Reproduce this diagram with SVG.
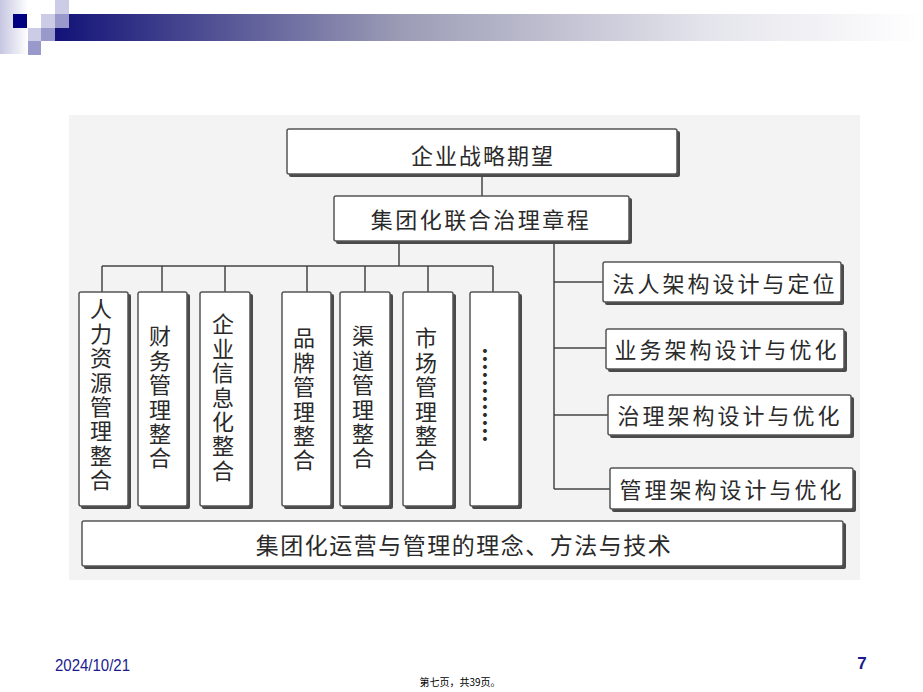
<svg xmlns="http://www.w3.org/2000/svg" width="923" height="692" viewBox="0 0 923 692">
<defs>
<linearGradient id="barG" x1="0" y1="0" x2="1" y2="0">
<stop offset="0" stop-color="#121278"/>
<stop offset="0.4" stop-color="#9c9cb6"/>
<stop offset="0.75" stop-color="#e4e4ec"/>
<stop offset="1" stop-color="#ffffff"/>
</linearGradient>
<linearGradient id="leftG" x1="0" y1="0" x2="1" y2="0">
<stop offset="0" stop-color="#c6c6e2"/>
<stop offset="1" stop-color="#ffffff"/>
</linearGradient>
<style>
.sh{fill:#4a4a4a}
.bx{fill:#ffffff;stroke:#555555;stroke-width:1.5}
.t{font-family:"Noto Sans CJK SC","Noto Sans CJK JP",sans-serif;font-size:22px;fill:#2a2a2a;text-anchor:middle;dominant-baseline:central}
.v{font-family:"Noto Sans CJK SC","Noto Sans CJK JP",sans-serif;font-size:22px;fill:#2a2a2a;writing-mode:vertical-rl;letter-spacing:2.4px}
.ln{stroke:#444444;stroke-width:1.5;fill:none}
.lt{fill:#ccccE6}
.md{fill:#9999cc}
</style>
</defs>
<rect width="923" height="692" fill="#ffffff"/>
<g id="decoration">
<rect x="0" y="0" width="28" height="54" fill="url(#leftG)"/>
<rect x="55" y="14" width="868" height="27" fill="url(#barG)"/>
<rect x="13" y="14" width="14" height="14" fill="#000080"/>
<rect x="41" y="14" width="14" height="14" class="lt"/>
<rect x="55" y="0" width="14" height="14" class="lt"/>
<rect x="55" y="14" width="14" height="14" class="md"/>
<rect x="28" y="28" width="13" height="13" class="lt"/>
<rect x="41" y="28" width="14" height="13" class="md"/>
<rect x="28" y="41" width="13" height="14" class="md"/>
</g>
<rect id="panel" x="69" y="115" width="791" height="465" fill="#f3f3f3"/>
<g id="connectors">
<line class="ln" x1="482" y1="175" x2="482" y2="196"/>
<line class="ln" x1="399" y1="242" x2="399" y2="266"/>
<line class="ln" x1="102" y1="266" x2="493" y2="266"/>
<line class="ln" x1="102" y1="266" x2="102" y2="292"/>
<line class="ln" x1="162" y1="266" x2="162" y2="292"/>
<line class="ln" x1="225" y1="266" x2="225" y2="292"/>
<line class="ln" x1="307" y1="266" x2="307" y2="292"/>
<line class="ln" x1="365" y1="266" x2="365" y2="292"/>
<line class="ln" x1="428" y1="266" x2="428" y2="292"/>
<line class="ln" x1="493" y1="266" x2="493" y2="292"/>
<line class="ln" x1="554" y1="242" x2="554" y2="489"/>
<line class="ln" x1="554" y1="282" x2="603" y2="282"/>
<line class="ln" x1="554" y1="348" x2="606" y2="348"/>
<line class="ln" x1="554" y1="415" x2="608" y2="415"/>
<line class="ln" x1="554" y1="489" x2="610" y2="489"/>
</g>
<g id="n-strategy">
<rect class="sh" x="289" y="131" width="391" height="46" rx="2"/>
<rect class="bx" x="287" y="129" width="390" height="45" rx="2"/>
<text class="t" x="483" y="154" letter-spacing="2">企业战略期望</text>
</g>
<g id="n-charter">
<rect class="sh" x="336" y="198" width="296" height="46" rx="2"/>
<rect class="bx" x="334" y="196" width="295" height="45" rx="2"/>
<text class="t" x="481" y="218" letter-spacing="2.5">集团化联合治理章程</text>
</g>
<g id="n-hr">
<rect class="sh" x="81" y="294" width="50" height="215" rx="2"/>
<rect class="bx" x="79" y="292" width="49" height="214" rx="2"/>
<text class="v" x="101" y="298">人力资源管理整合</text>
</g>
<g id="n-finance">
<rect class="sh" x="140" y="294" width="50" height="215" rx="2"/>
<rect class="bx" x="138" y="292" width="49" height="214" rx="2"/>
<text class="v" x="160" y="325">财务管理整合</text>
</g>
<g id="n-it">
<rect class="sh" x="202" y="294" width="51" height="215" rx="2"/>
<rect class="bx" x="200" y="292" width="50" height="214" rx="2"/>
<text class="v" x="223" y="313">企业信息化整合</text>
</g>
<g id="n-brand">
<rect class="sh" x="284" y="294" width="50" height="215" rx="2"/>
<rect class="bx" x="282" y="292" width="49" height="214" rx="2"/>
<text class="v" x="304" y="327">品牌管理整合</text>
</g>
<g id="n-channel">
<rect class="sh" x="342" y="294" width="51" height="215" rx="2"/>
<rect class="bx" x="340" y="292" width="50" height="214" rx="2"/>
<text class="v" x="363" y="325">渠道管理整合</text>
</g>
<g id="n-market">
<rect class="sh" x="405" y="294" width="51" height="215" rx="2"/>
<rect class="bx" x="403" y="292" width="50" height="214" rx="2"/>
<text class="v" x="426" y="327">市场管理整合</text>
</g>
<g id="n-more">
<rect class="sh" x="472" y="294" width="50" height="215" rx="2"/>
<rect class="bx" x="470" y="292" width="49" height="214" rx="2"/>
<text x="486" y="347" style="font-family:'Noto Sans CJK SC',sans-serif;font-size:24px;fill:#2a2a2a;writing-mode:vertical-rl;font-weight:bold">…………</text>
</g>
<g id="n-legal">
<rect class="sh" x="605" y="264" width="239" height="41" rx="2"/>
<rect class="bx" x="603" y="262" width="238" height="40" rx="2"/>
<text class="t" x="725" y="282" letter-spacing="3">法人架构设计与定位</text>
</g>
<g id="n-business">
<rect class="sh" x="608" y="331" width="239" height="41" rx="2"/>
<rect class="bx" x="606" y="329" width="238" height="40" rx="2"/>
<text class="t" x="727" y="348" letter-spacing="3">业务架构设计与优化</text>
</g>
<g id="n-governance">
<rect class="sh" x="610" y="397" width="244" height="41" rx="2"/>
<rect class="bx" x="608" y="395" width="243" height="40" rx="2"/>
<text class="t" x="730" y="414" letter-spacing="3">治理架构设计与优化</text>
</g>
<g id="n-management">
<rect class="sh" x="612" y="470" width="244" height="42" rx="2"/>
<rect class="bx" x="610" y="468" width="243" height="41" rx="2"/>
<text class="t" x="732" y="488" letter-spacing="3">管理架构设计与优化</text>
</g>
<g id="n-foundation">
<rect class="sh" x="84" y="523" width="762" height="46" rx="2"/>
<rect class="bx" x="82" y="521" width="761" height="45" rx="2"/>
<text class="t" x="464" y="544" style="font-size:23px" letter-spacing="1.5">集团化运营与管理的理念、方法与技术</text>
</g>
<g id="footer">
<text x="55" y="671" style="font-family:'Liberation Sans',Arial,sans-serif;font-size:16px;fill:#1a1a8c" textLength="75" lengthAdjust="spacingAndGlyphs">2024/10/21</text>
<text x="862" y="669" style="font-family:'Liberation Sans',Arial,sans-serif;font-size:17px;font-weight:bold;fill:#1a1a8c;text-anchor:middle">7</text>
<text x="460" y="686" style="font-family:'Noto Sans CJK SC',sans-serif;font-size:10px;fill:#000000;text-anchor:middle">第七页，共39页。</text>
</g>
</svg>
